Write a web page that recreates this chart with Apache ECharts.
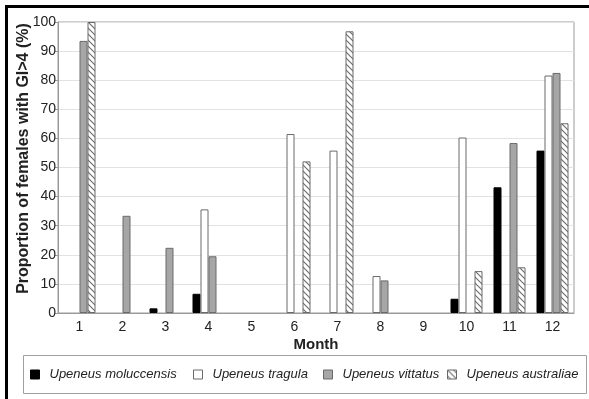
<!DOCTYPE html>
<html><head><meta charset="utf-8">
<script src="https://cdn.jsdelivr.net/npm/echarts@6/dist/echarts.min.js"></script>
<style>html,body{margin:0;padding:0;background:#fff}#c{width:589px;height:399px}</style>
</head><body><div id="c"></div>
<script>
var months = ['1','2','3','4','5','6','7','8','9','10','11','12'];
var seriesNames = ['Upeneus moluccensis','Upeneus tragula','Upeneus vittatus','Upeneus australiae'];
var moluccensis = [0, 0, 1.6, 6.6, 0, 0, 0, 0, 0, 4.9, 43.2, 55.8];
var tragula     = [0, 0, 0, 35.6, 0, 61.5, 55.8, 12.7, 0, 60.3, 0, 81.6];
var vittatus    = [93.5, 33.4, 22.4, 19.5, 0, 0, 0, 11.2, 0, 0, 58.4, 82.5];
var australiae  = [100, 0, 0, 0, 0, 52.1, 96.8, 0, 0, 14.4, 15.7, 65.2];
var yTicks = [0,10,20,30,40,50,60,70,80,90,100];

function hatch(){
  var c = document.createElement('canvas'); c.width = 6; c.height = 6;
  var g = c.getContext('2d');
  g.fillStyle = '#fff'; g.fillRect(0,0,6,6);
  g.strokeStyle = '#6a6a6a'; g.lineWidth = 1.1;
  g.beginPath();
  g.moveTo(-1,-1); g.lineTo(7,7);
  g.moveTo(-1,5); g.lineTo(1,7);
  g.moveTo(5,-1); g.lineTo(7,1);
  g.stroke();
  return c;
}
var hatchPattern = {image: hatch(), repeat: 'repeat'};
var styles = [
  {color:'#000', borderColor:'#000', borderWidth:1},
  {color:'#fff', borderColor:'#6a6a6a', borderWidth:1},
  {color:'#a6a6a6', borderColor:'#6a6a6a', borderWidth:1},
  {color:hatchPattern, borderColor:'#6a6a6a', borderWidth:1}
];
var dataSets = [moluccensis, tragula, vittatus, australiae];
var legendLefts = [30, 193, 323, 447];
var font = 'Liberation Sans, Arial, sans-serif';

var chart = echarts.init(document.getElementById('c'), null, {renderer:'canvas'});
chart.setOption({
  animation:false,
  backgroundColor:'#fff',
  grid:{left:58, right:15, top:22, bottom:86, show:true, borderColor:'#9a9a9a', borderWidth:1,
        containLabel:false, outerBoundsMode:'none'},
  legend: seriesNames.map(function(n,i){
    return {
      left:legendLefts[i], top:368, itemWidth:9, itemHeight:9, padding:0,
      textStyle:{fontFamily:font, fontSize:13, fontStyle:'italic', color:'#222', padding:[0,0,0,5]},
      data:[{name:n, icon:'rect', itemStyle:styles[i]}]
    };
  }),
  xAxis:{
    type:'category', data:months, name:'Month', nameLocation:'middle', nameGap:24, nameMoveOverlap:false,
    nameTextStyle:{fontFamily:font, fontSize:15, fontWeight:'bold', color:'#222'},
    axisLine:{lineStyle:{color:'#9a9a9a'}}, axisTick:{show:false},
    axisLabel:{fontFamily:font, fontSize:14, color:'#222', margin:7}
  },
  yAxis:{
    type:'value', min:0, max:100, interval:10,
    name:'Proportion of females with GI>4 (%)', nameLocation:'middle', nameGap:26, nameMoveOverlap:false,
    nameTextStyle:{fontFamily:font, fontSize:16, fontWeight:'bold', color:'#222', padding:[0,0,0,18]},
    axisLine:{show:true, lineStyle:{color:'#9a9a9a'}},
    axisTick:{show:true, length:3, lineStyle:{color:'#9a9a9a'}},
    axisLabel:{fontFamily:font, fontSize:14, color:'#222', margin:2,
      formatter:function(v){return yTicks.indexOf(v)>=0 ? String(v) : '';}},
    splitLine:{lineStyle:{color:'#e2e2e2'}}
  },
  series: seriesNames.map(function(n,i){
    return {name:n, type:'bar', barWidth:8, barGap:'0%', itemStyle:styles[i],
      data:dataSets[i].map(function(v){return v === 0 ? {value:0, itemStyle:{borderWidth:0, opacity:0}} : v;})};
  }),
  graphic:[
    {type:'rect', shape:{x:23.5, y:355.5, width:563, height:38}, style:{fill:null, stroke:'#a0a0a0', lineWidth:1}, z:-1},
    {type:'rect', shape:{x:5, y:5, width:584, height:3}, style:{fill:'#000'}},
    {type:'rect', shape:{x:5, y:5, width:3, height:394}, style:{fill:'#000'}}
  ]
});
</script></body></html>
